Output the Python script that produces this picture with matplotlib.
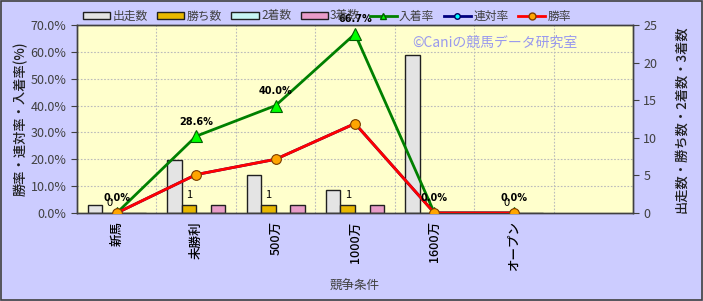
import matplotlib
matplotlib.use("Agg")
import matplotlib.pyplot as plt
from matplotlib.patches import Rectangle, Patch
from matplotlib.lines import Line2D
import numpy as np

plt.rcParams['font.family'] = ['Noto Sans CJK JP', 'DejaVu Sans']

categories = ["新馬", "未勝利", "500万", "1000万", "1600万", "オープン", ""]
starts = [1, 7, 5, 3, 21, 0]
wins = [0, 1, 1, 1, 0, 0]
seconds = [0, 0, 0, 0, 0, 0]
thirds = [0, 1, 1, 1, 0, 0]
place_rate = [0.0, 28.6, 40.0, 66.7, 0.0, 0.0]
rentai_rate = [0.0, 14.3, 20.0, 33.3, 0.0, 0.0]
win_rate = [0.0, 14.3, 20.0, 33.3, 0.0, 0.0]
left_ticks = [0, 10, 20, 30, 40, 50, 60, 70]
right_ticks = [0, 5, 10, 15, 20, 25]

W, H = 703, 301
fig = plt.figure(figsize=(W / 100, H / 100), dpi=100)
fig.patch.set_facecolor('#CCCCFF')
fig.add_artist(Rectangle((0.001, 0.002), 0.997, 0.995, transform=fig.transFigure,
                         fill=False, edgecolor='#404040', linewidth=1.2))

L, R, T, B = 77, 633, 25, 213
ax2 = fig.add_axes([L / W, 1 - B / H, (R - L) / W, (B - T) / H])
ax = ax2.twinx()
ax.yaxis.tick_left()
ax.yaxis.set_label_position('left')
ax2.yaxis.tick_right()
ax2.yaxis.set_label_position('right')

ax2.set_facecolor('#FFFFCC')
ax.patch.set_visible(False)

n = len(categories)
xs = np.arange(n)
w = 0.183
x6 = np.arange(len(starts))
bar_specs = [
    (starts, '#E4E4E4', -1.5),
    (wins, '#E8B800', -0.5),
    (seconds, '#C8F4F4', 0.5),
    (thirds, '#E89CC8', 1.5),
]
for vals, col, off in bar_specs:
    ax2.bar(x6 + off * w, vals, width=w, color=col, edgecolor='#202020', linewidth=1.0, zorder=2)

for i, v in enumerate(wins):
    ax2.text(i - 0.5 * w, v + 0.7, str(v), ha='center', va='bottom', fontsize=8, color='black', zorder=6)

ax2.set_ylim(0, 25)
ax2.set_yticks(right_ticks)
ax2.set_yticklabels([str(t) for t in right_ticks])

ax.plot(x6, place_rate, color='#008000', linewidth=2.0, marker='^', markersize=8,
        markerfacecolor='#00FF00', markeredgecolor='#006000', markeredgewidth=0.8, zorder=4)
ax.plot(x6, rentai_rate, color='#000080', linewidth=2.0, marker='o', markersize=6,
        markerfacecolor='#00FFFF', markeredgecolor='#000060', zorder=4)
ax.plot(x6, win_rate, color='#FF0000', linewidth=2.0, marker='o', markersize=7,
        markerfacecolor='#FFA500', markeredgecolor='#804000', markeredgewidth=0.8, zorder=5)
for i, v in enumerate(place_rate):
    ax.text(i, v + 3.6, f"{v:.1f}%", ha='center', va='bottom', fontsize=7, fontweight='bold',
            color='black', zorder=6, family='DejaVu Sans')

ax.set_ylim(0, 70)
ax.set_yticks(left_ticks)
ax.set_yticklabels([f"{t:.1f}%" for t in left_ticks])
ax.set_xlim(-0.5, n - 0.5)

for yv in left_ticks[1:]:
    ax2.axhline(yv / 70 * 25, color='#BBBBBB', linestyle=(0, (1.5, 1.5)), linewidth=0.8, zorder=1)
for xb in np.arange(0.5, n - 0.5, 1):
    ax2.axvline(xb, color='#BBBBBB', linestyle=(0, (1.5, 1.5)), linewidth=0.8, zorder=1)

ax2.set_xticks(xs)
ax2.set_xticklabels(categories, rotation=90, fontsize=9, color='black', fontweight='medium')
ax2.tick_params(axis='x', length=0, pad=6)
ax2.tick_params(axis='y', labelsize=9, labelcolor='#404040', length=4, color='#404040')
ax.tick_params(axis='y', labelsize=9, labelcolor='#404040', length=4, color='#404040')
for a in (ax, ax2):
    for s in a.spines.values():
        s.set_color('#404040')
        s.set_linewidth(1.0)

ax.set_ylabel("勝率・連対率・入着率(%)", fontsize=9.5, color='#202020', labelpad=2, fontweight='medium')
ax2.set_ylabel("出走数・勝ち数・2着数・3着数", fontsize=9.5, color='#202020', labelpad=12, fontweight='medium')
ax2.set_xlabel("競争条件", fontsize=9, color='#404040', labelpad=6)

fig.text(495 / W, 1 - 43 / H, "©Caniの競馬データ研究室", fontsize=10, color='#9999EE',
         ha='center', va='center')

handles = [
    Patch(facecolor='#E4E4E4', edgecolor='#202020', label='出走数'),
    Patch(facecolor='#E8B800', edgecolor='#202020', label='勝ち数'),
    Patch(facecolor='#C8F4F4', edgecolor='#202020', label='2着数'),
    Patch(facecolor='#E89CC8', edgecolor='#202020', label='3着数'),
    Line2D([], [], color='#008000', linewidth=2, marker='^', markersize=5,
           markerfacecolor='#00FF00', markeredgecolor='#006000', label='入着率'),
    Line2D([], [], color='#000080', linewidth=2, marker='o', markersize=4,
           markerfacecolor='#00FFFF', markeredgecolor='#000060', label='連対率'),
    Line2D([], [], color='#FF0000', linewidth=2, marker='o', markersize=5,
           markerfacecolor='#FFA500', markeredgecolor='#804000', label='勝率'),
]
leg = fig.legend(handles=handles, loc='center', bbox_to_anchor=(327 / W, 1 - 16 / H), ncol=7,
                 frameon=False, fontsize=8.5, handlelength=2.3, handleheight=0.5,
                 handletextpad=0.2, columnspacing=0.8, borderpad=0)
for t in leg.get_texts():
    t.set_color('#404040')

fig.savefig("out.png", dpi=100, facecolor=fig.get_facecolor())
